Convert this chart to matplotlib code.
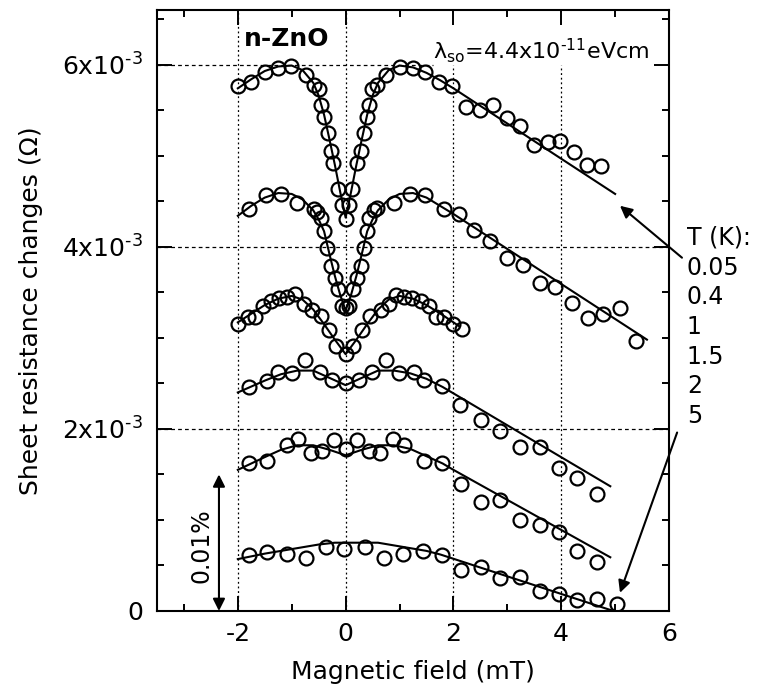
import numpy as np
import matplotlib
matplotlib.use('Agg')
import matplotlib.pyplot as plt
from matplotlib.ticker import MultipleLocator

# Data points (x in mT, y in 1e-3 Ohm)
x_005 = [-1.99, -1.76, -1.49, -1.26, -1.02, -0.74, -0.59, -0.49, -0.46, -0.40, -0.32, -0.28, -0.23,
         -0.15, -0.06, 0.0, 0.07, 0.11, 0.22, 0.28, 0.34, 0.40, 0.44, 0.49, 0.59, 0.74, 1.00, 1.25,
         1.48, 1.73, 1.98, 2.24, 2.50, 2.73, 2.99, 3.24, 3.50, 3.75, 3.98, 4.24, 4.48, 4.73]
y_005 = [5.76, 5.81, 5.92, 5.96, 5.98, 5.89, 5.78, 5.73, 5.56, 5.42, 5.25, 5.05, 4.92,
         4.63, 4.46, 4.31, 4.46, 4.63, 4.92, 5.05, 5.25, 5.42, 5.56, 5.73, 5.78, 5.89, 5.97, 5.96,
         5.92, 5.81, 5.76, 5.53, 5.50, 5.56, 5.41, 5.33, 5.12, 5.15, 5.16, 5.04, 4.90, 4.89]

x_04 = [-1.79, -1.48, -1.20, -0.90, -0.59, -0.53, -0.46, -0.40, -0.34, -0.28, -0.20, -0.14, -0.06,
        0.0, 0.06, 0.14, 0.22, 0.28, 0.34, 0.40, 0.44, 0.52, 0.59, 0.90, 1.20, 1.48, 1.82, 2.10,
        2.38, 2.68, 2.99, 3.29, 3.60, 3.89, 4.20, 4.49, 4.78, 5.09, 5.39]
y_04 = [4.41, 4.57, 4.58, 4.48, 4.41, 4.38, 4.32, 4.17, 3.99, 3.79, 3.66, 3.54, 3.35,
        3.33, 3.35, 3.54, 3.66, 3.79, 3.99, 4.17, 4.32, 4.40, 4.43, 4.48, 4.58, 4.57, 4.41, 4.36,
        4.18, 4.06, 3.88, 3.80, 3.60, 3.56, 3.38, 3.22, 3.26, 3.33, 2.96]

x_1 = [-1.99, -1.82, -1.68, -1.54, -1.39, -1.23, -1.08, -0.93, -0.77, -0.62, -0.46, -0.31, -0.18,
       0.0, 0.14, 0.31, 0.46, 0.65, 0.80, 0.93, 1.08, 1.23, 1.39, 1.54, 1.67, 1.82, 2.00, 2.15]
y_1 = [3.15, 3.23, 3.23, 3.35, 3.40, 3.44, 3.45, 3.48, 3.37, 3.30, 3.24, 3.09, 2.91,
       2.82, 2.91, 3.09, 3.24, 3.30, 3.37, 3.47, 3.45, 3.44, 3.40, 3.35, 3.23, 3.23, 3.15, 3.10]

x_15 = [-1.80, -1.45, -1.25, -1.00, -0.76, -0.48, -0.25, 0.0, 0.25, 0.49, 0.75, 0.99, 1.27, 1.45,
        1.79, 2.13, 2.51, 2.87, 3.23, 3.60, 3.95, 4.30, 4.67]
y_15 = [2.46, 2.53, 2.62, 2.61, 2.76, 2.62, 2.54, 2.50, 2.54, 2.62, 2.76, 2.61, 2.62, 2.54,
        2.47, 2.26, 2.10, 1.98, 1.80, 1.80, 1.57, 1.46, 1.28]

x_2 = [-1.80, -1.45, -1.08, -0.88, -0.65, -0.43, -0.21, 0.0, 0.21, 0.43, 0.63, 0.88, 1.08, 1.45,
       1.79, 2.14, 2.51, 2.87, 3.23, 3.60, 3.95, 4.30, 4.67]
y_2 = [1.62, 1.65, 1.82, 1.89, 1.73, 1.76, 1.88, 1.78, 1.88, 1.76, 1.73, 1.89, 1.82, 1.65,
       1.62, 1.39, 1.20, 1.22, 1.00, 0.94, 0.87, 0.66, 0.54]

x_5 = [-1.80, -1.45, -1.09, -0.73, -0.37, -0.03, 0.36, 0.71, 1.06, 1.43, 1.79, 2.14, 2.51, 2.87,
       3.23, 3.60, 3.95, 4.30, 4.67, 5.03]
y_5 = [0.61, 0.65, 0.63, 0.58, 0.70, 0.68, 0.70, 0.58, 0.63, 0.66, 0.61, 0.45, 0.48, 0.36,
       0.37, 0.22, 0.19, 0.12, 0.13, 0.08]

# Fitted curves
fx_005 = [-2.0, -1.75, -1.5, -1.25, -1.0, -0.8, -0.6, -0.5, -0.4, -0.3, -0.2, -0.1, 0.0,
          0.1, 0.2, 0.3, 0.4, 0.5, 0.6, 0.8, 1.0, 1.25, 1.5, 1.75, 2.0, 5.0]
fy_005 = [5.74, 5.84, 5.93, 5.98, 5.99, 5.94, 5.80, 5.66, 5.45, 5.18, 4.90, 4.60, 4.32,
          4.60, 4.90, 5.18, 5.45, 5.66, 5.80, 5.94, 5.99, 5.97, 5.91, 5.83, 5.74, 4.58]

fx_04 = [-2.0, -1.75, -1.5, -1.25, -1.0, -0.8, -0.6, -0.5, -0.4, -0.3, -0.2, -0.1, 0.0,
         0.1, 0.2, 0.3, 0.4, 0.5, 0.6, 0.8, 1.0, 1.25, 1.5, 1.75, 2.0, 5.59]
fy_04 = [4.34, 4.45, 4.54, 4.59, 4.58, 4.52, 4.40, 4.30, 4.17, 3.92, 3.68, 3.47, 3.30,
         3.47, 3.68, 3.92, 4.17, 4.30, 4.40, 4.52, 4.58, 4.59, 4.54, 4.45, 4.36, 2.98]

fx_1 = [-2.0, -1.5, -1.25, -1.0, -0.8, -0.6, -0.4, -0.2, 0.0, 0.2, 0.4, 0.6, 0.8, 1.0, 1.25,
        1.5, 1.8, 2.1]
fy_1 = [3.17, 3.36, 3.43, 3.46, 3.42, 3.31, 3.15, 2.98, 2.82, 2.98, 3.15, 3.31, 3.42, 3.46, 3.43,
        3.36, 3.25, 3.13]

fx_15 = [-2.0, -1.5, -1.2, -0.9, -0.6, -0.3, 0.0, 0.3, 0.6, 0.9, 1.2, 1.5, 1.8, 2.0, 4.91]
fy_15 = [2.40, 2.53, 2.60, 2.64, 2.64, 2.56, 2.48, 2.56, 2.64, 2.64, 2.61, 2.55, 2.46, 2.39, 1.37]

fx_2 = [-2.0, -1.5, -1.2, -0.9, -0.6, -0.3, 0.0, 0.3, 0.6, 0.9, 1.2, 1.5, 1.8, 2.0, 4.91]
fy_2 = [1.55, 1.69, 1.77, 1.82, 1.82, 1.77, 1.71, 1.77, 1.82, 1.82, 1.78, 1.70, 1.62, 1.55, 0.59]

fx_5 = [-2.0, -1.5, -1.0, -0.5, -0.2, 0.6, 1.0, 1.5, 1.76, 4.97]
fy_5 = [0.57, 0.63, 0.68, 0.73, 0.75, 0.75, 0.71, 0.66, 0.62, 0.0]

data_sets = [(x_005, y_005), (x_04, y_04), (x_1, y_1), (x_15, y_15), (x_2, y_2), (x_5, y_5)]
fit_sets = [(fx_005, fy_005), (fx_04, fy_04), (fx_1, fy_1), (fx_15, fy_15), (fx_2, fy_2), (fx_5, fy_5)]
temps = ['0.05', '0.4', '1', '1.5', '2', '5']

y_ticks = [0, 2e-3, 4e-3, 6e-3]
y_tick_labels = ['0', '2x10$^{\u20103}$', '4x10$^{\u20103}$', '6x10$^{\u20103}$']
x_ticks = [-2, 0, 2, 4, 6]

plt.rcParams['font.family'] = ['DejaVu Sans']
plt.rcParams['axes.unicode_minus'] = False

fig = plt.figure(figsize=(7.62, 6.9), dpi=100)
ax = fig.add_axes([0.206, 0.1145, 0.672, 0.871])
ax.set_xlim(-3.5, 6)
ax.set_ylim(0, 6.6e-3)

# grid (dotted verticals, dashed horizontals); upper right is left blank for the label
grid_kw = dict(color='k', lw=0.9, zorder=0)
for xv in [-2, 0]:
    ax.axvline(xv, ls=(0, (1.5, 2.2)), **grid_kw)
for xv in [2, 4]:
    ax.axvline(xv, ymax=6 / 6.6, ls=(0, (1.5, 2.2)), **grid_kw)
for yv in [2e-3, 4e-3]:
    ax.axhline(yv, ls=(0, (3, 2.5)), **grid_kw)
ax.axhline(6e-3, xmax=(1.63 + 3.5) / 9.5, ls=(0, (3, 2.5)), **grid_kw)

for (fx, fy) in fit_sets:
    ax.plot(fx, np.array(fy) * 1e-3, color='k', lw=1.5, zorder=2)
for (dx, dy) in data_sets:
    ax.plot(dx, np.array(dy) * 1e-3, 'o', ms=10, mfc='none', mec='k', mew=1.6, zorder=3)

# axes styling
ax.set_xticks(x_ticks)
ax.xaxis.set_minor_locator(MultipleLocator(1))
ax.set_yticks(y_ticks)
ax.set_yticklabels(y_tick_labels)
ax.yaxis.set_minor_locator(MultipleLocator(0.5e-3))
ax.tick_params(which='both', direction='in', top=True, right=True, width=1.4, labelsize=18)
ax.tick_params(which='major', length=11)
ax.tick_params(which='minor', length=5)
ax.tick_params(axis='x', pad=8)
ax.tick_params(axis='y', pad=10)
for sp in ax.spines.values():
    sp.set_linewidth(1.5)

ax.set_xlabel('Magnetic field (mT)', fontsize=18)
ax.set_ylabel('Sheet resistance changes (\u03a9)', fontsize=18)
ax.xaxis.set_label_coords(0.5, -0.082)
ax.yaxis.set_label_coords(-0.223, 0.5)

# annotations
ax.text(-1.89, 6.2e-3, 'n-ZnO', fontsize=18, fontweight='bold', va='baseline')
ax.text(1.62, 6.07e-3, '\u03bb$_{\\rm so}$=4.4x10$^{\u201011}$eVcm', fontsize=16, va='baseline')

ax.text(6.33, 4.23e-3, 'T (K):\n' + '\n'.join(temps), fontsize=17, va='top', ha='left',
        linespacing=1.3, clip_on=False)

arrow_kw = dict(arrowstyle='-|>', color='k', lw=1.5, mutation_scale=18, shrinkA=0, shrinkB=0)
ax.annotate('', xy=(5.09, 4.45e-3), xytext=(6.24, 3.88e-3), arrowprops=arrow_kw,
            annotation_clip=False)
ax.annotate('', xy=(5.09, 0.2e-3), xytext=(6.15, 1.96e-3), arrowprops=arrow_kw,
            annotation_clip=False)

# 0.01 % scale bar
ax.annotate('', xy=(-2.35, 0.0), xytext=(-2.35, 1.5e-3),
            arrowprops=dict(arrowstyle='<|-|>', color='k', lw=1.5, mutation_scale=18,
                            shrinkA=0, shrinkB=0))
ax.text(-2.67, 0.72e-3, '0.01%', fontsize=17, rotation=90, ha='center', va='center')

fig.savefig('out.png', dpi=100)
